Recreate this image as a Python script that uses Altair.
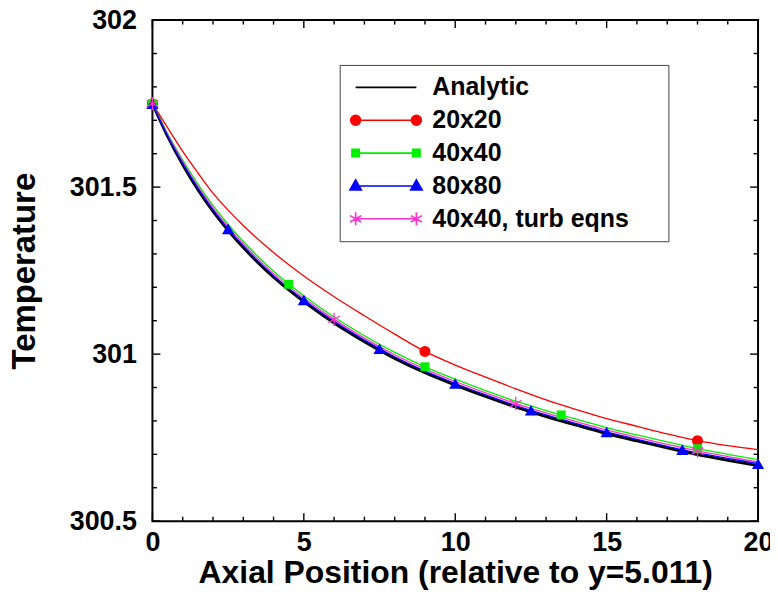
import altair as alt
import pandas as pd

# ---------------- data ----------------
X_GRID = [0, 0.5, 1, 1.5, 2, 2.5, 3, 4, 5, 6, 7, 8, 9, 10, 11, 12, 13, 14, 15, 16, 17, 18, 19, 20]

ANALYTIC = [301.750, 301.652, 301.567, 301.492, 301.427, 301.370, 301.319, 301.230, 301.157, 301.093,
            301.037, 300.987, 300.944, 300.907, 300.873, 300.841, 300.813, 300.787, 300.762, 300.740,
            300.719, 300.699, 300.682, 300.666]
MESH_20 = [301.750, 301.678, 301.607, 301.543, 301.482, 301.431, 301.385, 301.304, 301.234, 301.172,
           301.115, 301.060, 301.008, 300.967, 300.931, 300.896, 300.863, 300.834, 300.807, 300.784,
           300.761, 300.741, 300.726, 300.714]
MESH_40 = [301.750, 301.660, 301.581, 301.509, 301.445, 301.388, 301.337, 301.248, 301.175, 301.111,
           301.055, 301.005, 300.962, 300.925, 300.891, 300.859, 300.831, 300.805, 300.780, 300.758,
           300.737, 300.717, 300.700, 300.684]
MESH_80 = [301.750, 301.654, 301.571, 301.497, 301.432, 301.375, 301.324, 301.235, 301.162, 301.098,
           301.042, 300.992, 300.949, 300.912, 300.878, 300.846, 300.818, 300.792, 300.767, 300.745,
           300.724, 300.704, 300.688, 300.672]
TURB_40 = [301.750, 301.657, 301.576, 301.502, 301.438, 301.381, 301.330, 301.241, 301.168, 301.104,
           301.048, 300.998, 300.955, 300.918, 300.884, 300.852, 300.824, 300.798, 300.773, 300.751,
           300.730, 300.710, 300.693, 300.677]

M20_X = [0, 9, 18]
M20_Y = [301.750, 301.008, 300.741]
M40_X = [0, 4.5, 9, 13.5, 18]
M40_Y = [301.750, 301.209, 300.962, 300.818, 300.717]
M80_X = [0, 2.5, 5, 7.5, 10, 12.5, 15, 17.5, 20]
M80_Y = [301.750, 301.375, 301.162, 301.016, 300.912, 300.832, 300.767, 300.714, 300.672]
TURB_X = [0, 6, 12, 18]
TURB_Y = [301.750, 301.104, 300.852, 300.710]

SERIES = ["Analytic", "20x20", "40x40", "80x80", "40x40, turb eqns"]
COLORS = ["#000000", "#ff0000", "#00f000", "#0000ff", "#ff33cc"]

X_LABELS = [0, 5, 10, 15, 20]
Y_LABELS = [300.5, 301, 301.5, 302]
X_TICKS = list(range(0, 21))
Y_TICKS = [300.5, 300.6, 300.7, 300.8, 300.9, 301.0, 301.1, 301.2, 301.3, 301.4,
           301.5, 301.6, 301.7, 301.8, 301.9, 302.0]
X_MAJOR = [0, 5, 10, 15, 20]
Y_MAJOR = [300.5, 301.0, 301.5, 302.0]

# ---------------- layout / style ----------------
W, H = 608, 503
FONT = "Liberation Sans"
MAJ, MIN = 8, 4.5

xs = alt.Scale(domain=[0, 20], nice=False, zero=False)
ys = alt.Scale(domain=[300.5, 302], nice=False, zero=False)

x_axis = alt.Axis(values=X_LABELS, format="d", title="Axial Position (relative to y=5.011)",
                  labelPadding=8, titlePadding=3, labelFlush=False, titleFontSize=32)
y_axis = alt.Axis(values=Y_LABELS, format="~g", title="Temperature",
                  labelPadding=16, titlePadding=28, labelFlush=False)

def X(field):
    return alt.X(field, scale=xs, axis=x_axis)

def Y(field):
    return alt.Y(field, scale=ys, axis=y_axis)

layers = []

# curves
curve_vals = [ANALYTIC, MESH_20, MESH_40, TURB_40, MESH_80]
curve_cols = [COLORS[0], COLORS[1], COLORS[2], COLORS[4], COLORS[3]]
curve_w = [2.8, 1.3, 1.3, 1.3, 1.3]
for vals, col, w in zip(curve_vals, curve_cols, curve_w):
    df = pd.DataFrame({"x": X_GRID, "T": vals})
    layers.append(alt.Chart(df).mark_line(color=col, strokeWidth=w, interpolate="monotone").encode(
        x=X("x:Q"), y=Y("T:Q")))

# filled markers
for mx, my, shape, col, size in [(M20_X, M20_Y, "circle", COLORS[1], 121),
                                 (M40_X, M40_Y, "square", COLORS[2], 81),
                                 (M80_X, M80_Y, "triangle-up", COLORS[3], 150)]:
    df = pd.DataFrame({"x": mx, "T": my})
    layers.append(alt.Chart(df).mark_point(shape=shape, filled=True, opacity=1, color=col, size=size).encode(
        x=X("x:Q"), y=Y("T:Q")))

ASTER = "M0,-1L0,1M-0.87,-0.5L0.87,0.5M-0.87,0.5L0.87,-0.5"
df = pd.DataFrame({"x": TURB_X, "T": TURB_Y})
layers.append(alt.Chart(df).mark_point(shape=ASTER, filled=False, opacity=1, color=COLORS[4],
                                       strokeWidth=1.3, size=180).encode(x=X("x:Q"), y=Y("T:Q")))

# inward ticks on all four sides
def yticks(vals, x0, x1):
    return alt.Chart(pd.DataFrame({"v": vals})).mark_rule(color="black", strokeWidth=1.4).encode(
        y=Y("v:Q"), x=alt.value(x0), x2=alt.value(x1))

def xticks(vals, y0, y1):
    return alt.Chart(pd.DataFrame({"v": vals})).mark_rule(color="black", strokeWidth=1.4).encode(
        x=X("v:Q"), y=alt.value(y0), y2=alt.value(y1))

y_minor = [v for v in Y_TICKS if v not in Y_MAJOR]
x_minor = [v for v in X_TICKS if v not in X_MAJOR]
layers += [yticks(Y_MAJOR, 0, MAJ), yticks(y_minor, 0, MIN),
           yticks(Y_MAJOR, W, W - MAJ), yticks(y_minor, W, W - MIN),
           xticks(X_MAJOR, H, H - MAJ), xticks(x_minor, H, H - MIN),
           xticks(X_MAJOR, 0, MAJ), xticks(x_minor, 0, MIN)]

# legend symbols: line sample with a marker at each end (stroke-only paths, markers as nested rings)
R = 37.0
def p(v):
    return f"{v / R:.3f}"
c = 30.5
line = f"M{p(-c)},0L{p(c)},0"
def circ(cx):
    out = ""
    for r in (5.0, 3.6, 2.2, 0.8):
        out += (f"M{p(cx - r)},0A{p(r)},{p(r)},0,1,0,{p(cx + r)},0"
                f"A{p(r)},{p(r)},0,1,0,{p(cx - r)},0Z")
    return out
def sq(cx):
    out = ""
    for h in (3.7, 2.4, 1.1):
        out += f"M{p(cx - h)},{p(-h)}L{p(cx + h)},{p(-h)}L{p(cx + h)},{p(h)}L{p(cx - h)},{p(h)}Z"
    return out
def tri(cx):
    out = ""
    cy = 0.67
    for f in (0.88, 0.62, 0.36, 0.12):
        ax, ay = cx, cy + (-7 - cy) * f
        bx, by = cx + 6.5 * f, cy + (4.5 - cy) * f
        dx = cx - 6.5 * f
        out += f"M{p(ax)},{p(ay)}L{p(bx)},{p(by)}L{p(dx)},{p(by)}Z"
    return out
def ast(cx):
    a, dx, dy = 6.5, 5.6, 3.25
    return (f"M{p(cx)},{p(-a)}L{p(cx)},{p(a)}M{p(cx - dx)},{p(-dy)}L{p(cx + dx)},{p(dy)}"
            f"M{p(cx - dx)},{p(dy)}L{p(cx + dx)},{p(-dy)}")
LEG_SHAPES = [line,
              line + circ(-c) + circ(c),
              line + sq(-c) + sq(c),
              line + tri(-c) + tri(c),
              line + ast(-c) + ast(c)]

leg_df = pd.DataFrame({"series": SERIES})
legend = alt.Legend(
    title=None, orient="none", legendX=188, legendY=45, padding=8.5, rowPadding=5, clipHeight=28,
    labelOffset=8.5, symbolSize=R * R * 4, labelFont=FONT, labelFontSize=25, labelFontWeight="bold",
    labelColor="black", labelBaseline="middle", strokeColor="#444444", fillColor="white",
    labelLimit=500, symbolStrokeWidth=1.6, symbolOpacity=1,
    labelExpr="datum.label == '40x40, turb eqns' ? datum.label + '\u2002\u2800' : datum.label",
)
layers.append(alt.Chart(leg_df).transform_filter("false").mark_point(
    filled=False, opacity=1, strokeWidth=1.6, size=R * R * 4).encode(
    color=alt.Color("series:N", scale=alt.Scale(domain=SERIES, range=COLORS), legend=legend),
    shape=alt.Shape("series:N", scale=alt.Scale(domain=SERIES, range=LEG_SHAPES), legend=legend),
))

chart = alt.layer(*layers).properties(
    width=W, height=H, autosize="none",
    padding={"left": 145, "top": 11, "right": 12, "bottom": 70},
).configure_view(stroke="black", strokeWidth=2).configure_axis(
    grid=False, domain=False, ticks=False,
    labelFont=FONT, labelFontSize=27, labelFontWeight="bold", labelColor="black",
    titleFont=FONT, titleFontSize=33, titleFontWeight="bold", titleColor="black",
)

chart.save("out.html", embed_options={"renderer": "svg", "actions": False})
